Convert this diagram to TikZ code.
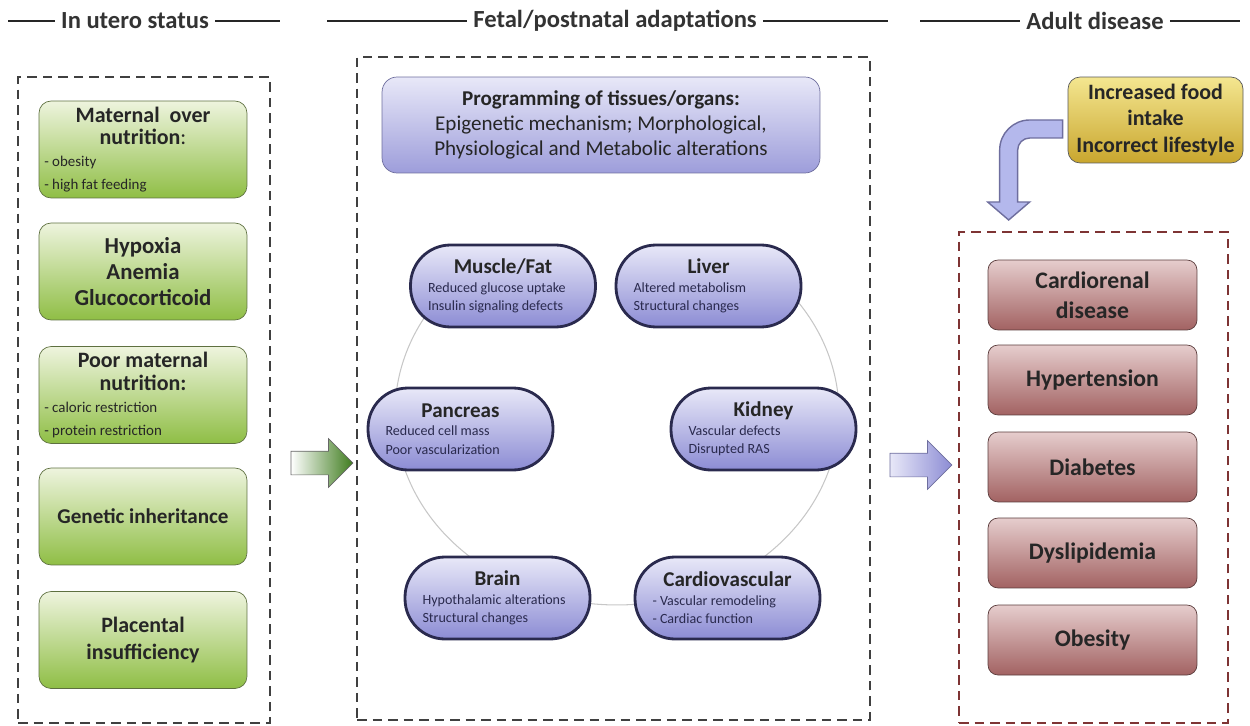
\documentclass[tikz,border=0pt]{standalone}
\usepackage{fontspec}
\setmainfont{Carlito}
\usepackage{xcolor}
\usetikzlibrary{positioning,shapes.arrows}

\definecolor{leafTop}{HTML}{EEF4DE}
\definecolor{leafBot}{HTML}{8FBE45}
\definecolor{leafLine}{HTML}{5E7040}
\definecolor{leafArrow}{HTML}{3F7C1E}
\definecolor{lilacTop}{HTML}{E8E8F8}
\definecolor{lilacBot}{HTML}{8C8CD4}
\definecolor{lilacLine}{HTML}{6E6E9E}
\definecolor{navyLine}{HTML}{2A2A4E}
\definecolor{roseTop}{HTML}{E6CDCD}
\definecolor{roseBot}{HTML}{A26262}
\definecolor{roseLine}{HTML}{5A3C3C}
\definecolor{goldTop}{HTML}{F4E690}
\definecolor{goldBot}{HTML}{C9A62E}
\definecolor{frameRed}{HTML}{7E3434}
\definecolor{bendBlue}{HTML}{B4B8EC}

\newcommand{\leafitem}[1]{\makebox[3.95cm][l]{\fontsize{8.5}{10}\selectfont\mdseries #1}}
\newcommand{\organitem}[1]{\makebox[3.0cm][l]{\fontsize{8}{10}\selectfont\mdseries\color{navyLine} #1}}

\begin{document}
\begin{tikzpicture}[x=0.02cm, y=-0.02cm,
    every node/.style={font=\bfseries},
    frame/.style={draw=black!75, dash pattern=on 0.19cm off 0.12cm, line width=1.1pt},
    rule/.style={line width=1.7pt, black!85},
    heading/.style={font=\fontsize{14}{16}\selectfont\bfseries, text=black!80},
    cause/.style={draw=leafLine, rounded corners=0.24cm, top color=leafTop, bottom color=leafBot,
        minimum width=4.16cm, minimum height=1.94cm, align=center, inner sep=0pt, text=black!85},
    organ/.style={draw=navyLine, line width=1.6pt, rounded corners=0.8cm, top color=lilacTop, bottom color=lilacBot,
        minimum width=3.7cm, minimum height=1.64cm, align=center, inner sep=0pt,
        font=\fontsize{12}{10.5}\selectfont\bfseries, text=black!85},
    disease/.style={draw=roseLine, rounded corners=0.2cm, top color=roseTop, bottom color=roseBot,
        minimum width=4.18cm, minimum height=1.4cm, align=center,
        font=\fontsize{13.5}{17}\selectfont\bfseries, text=black!85},
    fatarrow/.style={single arrow, draw=black!60, minimum height=1.24cm, inner xsep=0pt, inner ysep=0.23cm,
        single arrow head extend=0.25cm},
    halo/.style={draw=black!22, line width=0.6pt},
]
\useasboundingbox (0,0) rectangle (1250,726);

% Headings
\node[heading] (utero) at (135,21) {In utero status};
\node[heading] (fetal) at (615,21) {Fetal/postnatal adaptations};
\node[heading] (adult) at (1095,21) {Adult disease};
\draw[rule] (8,21) -- (utero.west);
\draw[rule] (utero.east) -- (280,21);
\draw[rule] (327,21) -- (fetal.west);
\draw[rule] (fetal.east) -- (888,21);
\draw[rule] (920,21) -- (adult.west);
\draw[rule] (adult.east) -- (1240,21);

% Frames
\node[frame, minimum width=5.04cm, minimum height=12.92cm] (uteroframe) at (144,400) {};
\node[frame, minimum width=10.26cm, minimum height=13.26cm] (fetalframe) at (613.5,388.5) {};
\node[frame, draw=frameRed, minimum width=5.38cm, minimum height=9.82cm] (adultframe) at (1093.5,477.5) {};

% In utero status
\node[cause, font=\fontsize{12.5}{12.6}\selectfont\bfseries] (overnut) at (143,149.5)
    {Maternal\ \ over\\nutrition{\mdseries:}\\\leafitem{- obesity}\\\leafitem{- high fat feeding}};
\node[cause, font=\fontsize{13}{15}\selectfont\bfseries] (hypoxia) at (143,271.5)
    {Hypoxia\\Anemia\\Glucocorticoid};
\node[cause, font=\fontsize{12.5}{13}\selectfont\bfseries] (poornut) at (143,395)
    {Poor maternal\\nutrition:\\\leafitem{- caloric restriction}\\\leafitem{- protein restriction}};
\node[cause, font=\fontsize{12}{15}\selectfont\bfseries] (genetic) at (143,516.5) {Genetic inheritance};
\node[cause, font=\fontsize{12.5}{15}\selectfont\bfseries] (placenta) at (143,640) {Placental\\insufficiency};

% Fetal/postnatal adaptations
\node[draw=lilacLine, rounded corners=0.3cm, top color=lilacTop, bottom color=lilacBot!85,
    minimum width=8.76cm, minimum height=1.92cm, align=center, text=black!85,
    font=\fontsize{12}{14.2}\selectfont] (program) at (601,125)
    {\textbf{Programming of tissues/organs:}\\\mdseries Epigenetic mechanism; Morphological,\\\mdseries Physiological and Metabolic alterations};
\coordinate (hub) at (617,413);
\draw[halo] ([shift={(140:4.44cm and 3.84cm)}]hub)
    arc[start angle=140, end angle=397, x radius=4.44cm, y radius=3.84cm];
\node[organ] (muscle) at (503,286) {Muscle/Fat\\\organitem{Reduced glucose uptake}\\\organitem{Insulin signaling defects}};
\node[organ] (liver) at (708.5,286) {Liver\\\organitem{Altered metabolism}\\\organitem{Structural changes}};
\node[organ] (pancreas) at (460.5,429) {Pancreas\\\organitem{Reduced cell mass}\\\organitem{Poor vascularization}};
\node[organ] (kidney) at (763.5,429) {Kidney\\\organitem{Vascular defects}\\\organitem{Disrupted RAS}};
\node[organ] (brain) at (497.5,598) {Brain\\\organitem{Hypothalamic alterations}\\\organitem{Structural changes}};
\node[organ] (cardio) at (727.5,598) {Cardiovascular\\\organitem{- Vascular remodeling}\\\organitem{- Cardiac function}};

% Adult disease
\node[draw=black!65, rounded corners=0.24cm, top color=goldTop, bottom color=goldBot,
    minimum width=3.5cm, minimum height=1.72cm, align=center, text=black!85,
    font=\fontsize{12.5}{15.3}\selectfont\bfseries] (food) at (1155.5,120)
    {Increased food\\intake\\Incorrect lifestyle};
\node[disease] (cardioren) at (1092.5,295) {Cardiorenal\\disease};
\node[disease] (hypert) at (1092.5,380) {Hypertension};
\node[disease] (diabetes) at (1092.5,467) {Diabetes};
\node[disease] (dyslip) at (1092.5,553) {Dyslipidemia};
\node[disease] (obesity) at (1092.5,640) {Obesity};

% Arrows
\node[fatarrow, left color=white, right color=leafArrow] (toadapt) at (316,463) {};
\node[fatarrow, left color=lilacTop, right color=lilacBot, draw=lilacLine] (todisease) at (915,465) {};
\draw[draw=lilacLine, fill=bendBlue, line width=0.8pt]
    ([xshift=-0.1cm]food.west) [rounded corners=0.6cm] -- ++(-63,0) [sharp corners] -- ++(0,82)
    -- ++(-12,0) -- ++(21,18) -- ++(21,-18) -- ++(-12,0) [rounded corners=0.24cm] -- ++(0,-64)
    [sharp corners] -- ++(45,0) -- cycle;

\end{tikzpicture}
\end{document}
